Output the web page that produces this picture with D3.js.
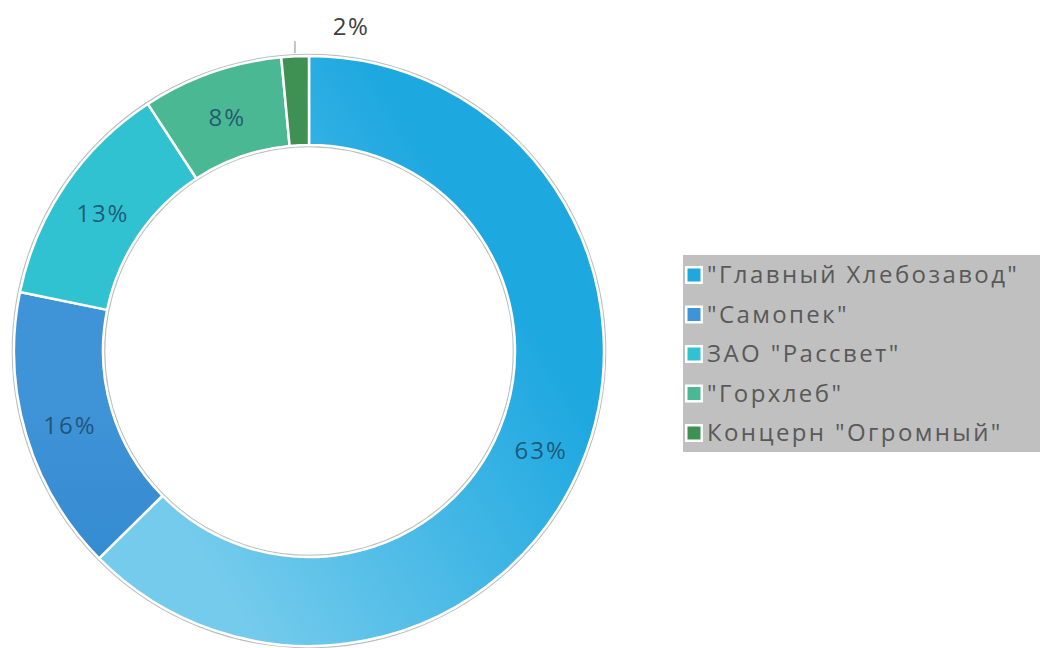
<!DOCTYPE html>
<html>
<head>
<meta charset="utf-8">
<script src="https://cdn.jsdelivr.net/npm/d3@7"></script>
<style>
  html, body { margin: 0; padding: 0; background: #ffffff; }
  svg { display: block; }
</style>
</head>
<body>
<svg id="chart" width="1040" height="648"></svg>
<script>
// Market share of bakery producers, percent
const companies = ['"Главный Хлебозавод"', '"Самопек"', 'ЗАО "Рассвет"', '"Горхлеб"', 'Концерн "Огромный"'];
const shares = [62.6, 15.6, 12.6, 7.7, 1.5];
const colorsTop = ["#1ea8e0", "#3f93d7", "#31c2d2", "#4ab892", "#3e9153"];
const colorsBottom = ["#74cbec", "#1f79c3", "#27b9c9", "#3fae88", "#3a8a4e"];

const svg = d3.select("#chart");
const cx = 309, cy = 351;
const outerR = 295, innerR = 206;
const fontFamily = "'Open Sans', 'Noto Sans', sans-serif";

const data = companies.map((name, i) => ({ name, value: shares[i], i }));

const pie = d3.pie()
  .value(d => d.value)
  .sort(null)
  .startAngle(0)
  .endAngle(2 * Math.PI);

const arc = d3.arc().innerRadius(innerR).outerRadius(outerR);
const arcs = pie(data);

// gradients for each slice
const defs = svg.append("defs");
arcs.forEach((a, i) => {
  const grad = defs.append("linearGradient")
    .attr("id", "grad" + i)
    .attr("gradientUnits", "userSpaceOnUse");
  if (i === 0) {
    grad.attr("x1", cx + 170).attr("y1", cy + 40).attr("x2", cx - 170).attr("y2", cy + 250);
  } else {
    grad.attr("x1", cx).attr("y1", cy - outerR).attr("x2", cx).attr("y2", cy + outerR * 0.7);
  }
  grad.append("stop").attr("offset", "0%").attr("stop-color", colorsTop[i]);
  grad.append("stop").attr("offset", "100%").attr("stop-color", colorsBottom[i]);
});

const g = svg.append("g").attr("transform", `translate(${cx},${cy})`);

// thin grey rims around the ring
g.append("circle").attr("r", outerR + 1.5).attr("fill", "none").attr("stroke", "#bdbdbd").attr("stroke-width", 1.6);
g.append("circle").attr("r", innerR - 1.5).attr("fill", "none").attr("stroke", "#bdbdbd").attr("stroke-width", 1.6);

g.selectAll("path.slice")
  .data(arcs)
  .join("path")
  .attr("class", "slice")
  .attr("d", arc)
  .attr("fill", (d, i) => `url(#grad${i})`)
  .attr("stroke", "#ffffff")
  .attr("stroke-width", 2.5)
  .attr("stroke-linejoin", "round");

const fmt = v => Math.round(v) + "%";

// labels inside the ring for larger slices
const labelArc = d3.arc().innerRadius((innerR + outerR) / 2).outerRadius((innerR + outerR) / 2);
g.selectAll("text.inner")
  .data(arcs.filter(d => d.data.value >= 5))
  .join("text")
  .attr("class", "inner")
  .attr("x", d => labelArc.centroid(d)[0] + 1)
  .attr("y", d => labelArc.centroid(d)[1] + 3)
  .attr("dy", "0.35em")
  .attr("text-anchor", "middle")
  .attr("font-family", fontFamily)
  .attr("font-size", 24)
  .attr("letter-spacing", 2)
  .attr("fill", "#1a4a68")
  .attr("fill-opacity", 0.85)
  .text(d => fmt(d.data.value));

// small slices get an outside label with a short leader line
arcs.filter(d => d.data.value < 5).forEach(d => {
  const mid = (d.startAngle + d.endAngle) / 2;
  const x = Math.sin(mid) * (outerR + 3);
  const y0 = -Math.cos(mid) * (outerR + 3);
  g.append("line")
    .attr("x1", x).attr("x2", x)
    .attr("y1", y0).attr("y2", y0 - 12)
    .attr("stroke", "#a6a6a6").attr("stroke-width", 1.3);
  g.append("text")
    .attr("x", x + 56)
    .attr("y", y0 - 27)
    .attr("dy", "0.35em")
    .attr("text-anchor", "middle")
    .attr("font-family", fontFamily)
    .attr("font-size", 24)
    .attr("letter-spacing", 1.5)
    .attr("fill", "#404040")
    .text(fmt(d.data.value));
});

// legend
const legend = svg.append("g").attr("transform", "translate(683,255)");
legend.append("rect")
  .attr("width", 357).attr("height", 197)
  .attr("fill", "#c0c0c0");

const rowY = d3.scalePoint().domain(companies).range([20, 178]);
const rows = legend.selectAll("g.row")
  .data(data)
  .join("g")
  .attr("class", "row")
  .attr("transform", d => `translate(0,${rowY(d.name)})`);

rows.append("rect")
  .attr("x", 2).attr("y", -9)
  .attr("width", 18).attr("height", 18)
  .attr("fill", "#ffffff");
rows.append("rect")
  .attr("x", 4.5).attr("y", -6.5)
  .attr("width", 13).attr("height", 13)
  .attr("fill", (d, i) => colorsTop[i]);

rows.append("text")
  .attr("x", 24)
  .attr("y", 0)
  .attr("dy", "0.35em")
  .attr("font-family", fontFamily)
  .attr("font-size", 24)
  .attr("letter-spacing", 2.4)
  .attr("fill", "#595959")
  .text(d => d.name);
</script>
</body>
</html>
